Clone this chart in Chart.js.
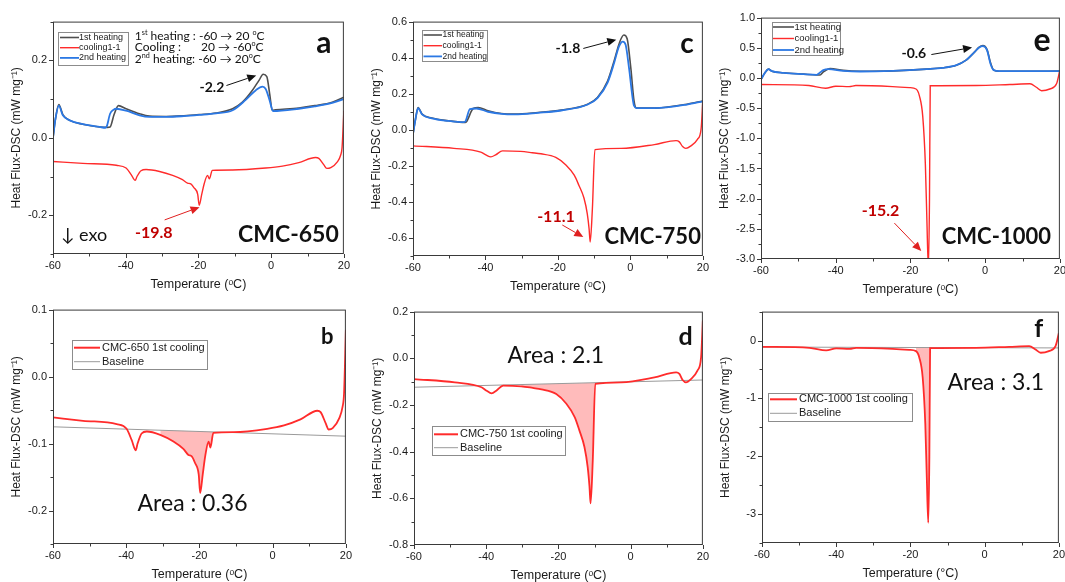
<!DOCTYPE html>
<html>
<head>
<meta charset="utf-8">
<title>DSC curves of CMC-650, CMC-750 and CMC-1000</title>
<script src="https://cdn.jsdelivr.net/npm/chart.js@4.4.1/dist/chart.umd.min.js"></script>
<style>
  html, body { margin: 0; padding: 0; background: #fff; }
  body { width: 1065px; height: 582px; overflow: hidden; position: relative; }
  canvas { position: absolute; }
</style>
</head>
<body>
<canvas id="panelA"></canvas>
<canvas id="panelC"></canvas>
<canvas id="panelE"></canvas>
<canvas id="panelB"></canvas>
<canvas id="panelD"></canvas>
<canvas id="panelF"></canvas>
<script>
// ---- CMC-650 ----
const t650Heat1 = [-60, -59.3, -58.4, -57.3, -55.4, -51.8, -47.2, -45, -44.3, -43.2, -42, -39.9, -36.2, -33.5, -28.9, -24, -19.8, -15.2, -10.6, -7.9, -5.2, -3.3, -2.2, -1.2, -0.4, 0.3, 1.2, 7.6, 12, 16.8, 20];
const y650Heat1 = [0.0, 0.05, 0.086, 0.06, 0.045, 0.035, 0.028, 0.027, 0.028, 0.06, 0.083, 0.075, 0.062, 0.056, 0.055, 0.057, 0.06, 0.064, 0.075, 0.092, 0.122, 0.149, 0.164, 0.158, 0.113, 0.071, 0.072, 0.077, 0.083, 0.092, 0.105];
const t650Heat2 = [-60, -59.3, -58.4, -57.3, -55.4, -51.8, -47.2, -45.6, -45.2, -44.3, -43.4, -42.6, -39.9, -36.2, -33.5, -28.9, -24, -19.8, -15.2, -10.6, -7, -4.2, -2.4, -1.5, -0.4, 0.5, 7.6, 12, 16.8, 20];
const y650Heat2 = [0.0, 0.05, 0.083, 0.058, 0.045, 0.035, 0.028, 0.026, 0.03, 0.062, 0.072, 0.075, 0.07, 0.058, 0.054, 0.054, 0.056, 0.059, 0.063, 0.071, 0.098, 0.123, 0.132, 0.126, 0.096, 0.069, 0.075, 0.081, 0.09, 0.1];
const t650Cool = [-60, -51.8, -42.6, -39.9, -38.5, -37.4, -36.9, -35.8, -34.4, -30.7, -27.1, -24.4, -23, -22.1, -21.2, -20.2, -19.8, -19.1, -18.4, -17.5, -17, -16.2, -10.6, -1.5, 3.1, 7.6, 12.2, 13.1, 14.5, 15.3, 16.4, 18.2, 19.1, 19.5, 20];
const y650Cool = [-0.061, -0.066, -0.071, -0.078, -0.095, -0.11, -0.1, -0.085, -0.082, -0.087, -0.097, -0.108, -0.117, -0.119, -0.129, -0.146, -0.174, -0.146, -0.118, -0.097, -0.106, -0.084, -0.083, -0.078, -0.073, -0.064, -0.051, -0.053, -0.07, -0.079, -0.077, -0.062, -0.045, -0.025, 0.07];
const t650Base = [-60, 20];
const y650Base = [-0.075, -0.089];
const range650 = [-31, -16.2];

// ---- CMC-750 ----
const t750Heat1 = [-60, -59.3, -58.6, -57.5, -54.8, -50.2, -45.6, -45.2, -43.4, -42, -39.3, -35.6, -31.9, -25.5, -19.1, -11.8, -9.1, -6.3, -4.5, -2.9, -1.8, -0.9, 0.1, 1, 1.7, 6.5, 15.6, 20];
const y750Heat1 = [-0.024, 0.06, 0.124, 0.087, 0.065, 0.05, 0.041, 0.046, 0.118, 0.124, 0.105, 0.09, 0.087, 0.096, 0.109, 0.142, 0.179, 0.27, 0.382, 0.49, 0.526, 0.505, 0.345, 0.16, 0.12, 0.12, 0.142, 0.16];
const t750Heat2 = [-60, -59.3, -58.6, -57.5, -54.8, -50.2, -46.1, -45.6, -44.3, -42.5, -39.3, -35.6, -31.9, -25.5, -19.1, -11.8, -9.1, -6.3, -4.5, -3.2, -2.1, -1.3, -0.4, 1, 1.7, 6.5, 15.6, 20];
const y750Heat2 = [-0.024, 0.06, 0.12, 0.085, 0.063, 0.049, 0.042, 0.045, 0.115, 0.118, 0.1, 0.088, 0.085, 0.094, 0.107, 0.14, 0.176, 0.262, 0.37, 0.46, 0.489, 0.47, 0.345, 0.133, 0.12, 0.12, 0.14, 0.158];
const t750Cool = [-60, -48.7, -41.3, -39.9, -38.5, -37.2, -35.3, -30.3, -27.1, -24.7, -20.6, -17.8, -15.5, -14.2, -12.8, -11.9, -11.4, -11.1, -10.5, -9.8, -2.6, 6.6, 12.6, 13.5, 14.4, 15.3, 16.7, 18.5, 19.5, 20];
const y750Cool = [-0.089, -0.103, -0.124, -0.139, -0.15, -0.139, -0.117, -0.12, -0.127, -0.133, -0.153, -0.195, -0.252, -0.309, -0.38, -0.466, -0.55, -0.622, -0.44, -0.11, -0.103, -0.082, -0.06, -0.067, -0.093, -0.103, -0.089, -0.053, 0.004, 0.163];
const t750Base = [-60, 20];
const y750Base = [-0.124, -0.093];
const range750 = [-30.3, -9.8];

// ---- CMC-1000 ----
const t1000Heat1 = [-60, -59, -58, -57.1, -54, -48.6, -45.1, -44.2, -43.3, -41.5, -38, -33.5, -24.6, -15.7, -11.3, -7.7, -5.1, -2.8, -1.6, -0.6, 0.5, 1.4, 2.3, 3.8, 10, 20];
const y1000Heat1 = [-0.025, 0.08, 0.146, 0.113, 0.085, 0.063, 0.05, 0.05, 0.1, 0.157, 0.125, 0.11, 0.118, 0.146, 0.168, 0.212, 0.295, 0.432, 0.51, 0.535, 0.47, 0.26, 0.13, 0.11, 0.11, 0.113];
const t1000Heat2 = [-60, -59, -58, -57.1, -54, -48.6, -45.1, -44.2, -43.3, -42, -38, -33.5, -24.6, -15.7, -11.3, -7.7, -5.1, -2.8, -1.6, -0.6, 0.5, 1.4, 2.3, 3.8, 20];
const y1000Heat2 = [-0.025, 0.08, 0.146, 0.113, 0.085, 0.063, 0.052, 0.09, 0.13, 0.146, 0.118, 0.107, 0.118, 0.146, 0.168, 0.212, 0.295, 0.432, 0.505, 0.526, 0.46, 0.24, 0.129, 0.113, 0.113];
const t1000Cool = [-60, -47.2, -42.7, -40, -36.4, -34.6, -24.8, -20.3, -18.5, -17.6, -16.7, -16, -15.6, -15.2, -14.9, -14.7, -2.4, 6.6, 12, 13.7, 15.1, 17.3, 19.1, 20];
const y1000Cool = [-0.109, -0.126, -0.171, -0.137, -0.143, -0.126, -0.143, -0.16, -0.183, -0.297, -0.64, -1.44, -2.35, -3.15, -2.01, -0.13, -0.126, -0.109, -0.097, -0.154, -0.211, -0.183, -0.097, 0.131];
const t1000Base = [-60, 20];
const y1000Base = [-0.113, -0.128];
const range1000 = [-18.5, -14.7];

// axis tick labels
const tempTicks = [-60, -40, -20, 0, 20];
const yTicksA = [-0.2, 0, 0.2];
const yTicksB = [-0.2, -0.1, 0, 0.1];
const yTicksC = [-0.6, -0.4, -0.2, 0, 0.2, 0.4, 0.6];
const yTicksD = [-0.8, -0.6, -0.4, -0.2, 0, 0.2];
const yTicksE = [-3, -2.5, -2, -1.5, -1, -0.5, 0, 0.5, 1];
const yTicksF = [-3, -2, -1, 0];

const GREY = '#4f4f4f';
const RED = '#ff2b2b';
const BLUE = '#2b78e4';
const PINK = 'rgba(255, 60, 60, 0.35)';
const DARKRED = '#c00000';
const SANS = "'Liberation Sans', Arial, sans-serif";
const NOTE = "Lato, 'DejaVu Sans', sans-serif";

Chart.defaults.font.family = SANS;
Chart.defaults.color = '#1a1a1a';

const pts = (t, y) => t.map((v, i) => ({x: v, y: y[i]}));
const isMult = (v, s) => Math.abs(v / s - Math.round(v / s)) < 1e-6;
const fmt = (v, d) => (Math.abs(v) < 1e-9 ? 0 : v).toFixed(d);

// frame round the plot area plus outward major/minor ticks
const frameTicks = {
  id: 'frameTicks',
  afterDatasetsDraw(chart, args, o) {
    const {ctx, chartArea: a, scales: {x, y}} = chart;
    ctx.save();
    ctx.strokeStyle = '#3a3a3a';
    ctx.lineWidth = 1;
    ctx.strokeRect(a.left + 0.5, a.top + 0.5, a.right - a.left - 1, a.bottom - a.top - 1);
    ctx.beginPath();
    let n = Math.round((x.max - x.min) / o.xMinor);
    for (let k = 0; k <= n; k++) {
      const v = x.min + k * o.xMinor;
      const px = Math.round(x.getPixelForValue(v)) + 0.5;
      ctx.moveTo(px, a.bottom);
      ctx.lineTo(px, a.bottom + (isMult(v, o.xMajor) ? 4 : 2.5));
    }
    n = Math.round((y.max - y.min) / o.yMinor);
    for (let k = 0; k <= n; k++) {
      const v = y.min + k * o.yMinor;
      const py = Math.round(y.getPixelForValue(v)) + 0.5;
      ctx.moveTo(a.left, py);
      ctx.lineTo(a.left - (isMult(v, o.yMajor) ? 4 : 2.5), py);
    }
    ctx.stroke();
    ctx.restore();
  }
};

// boxed legend drawn inside the plot area
const boxLegend = {
  id: 'boxLegend',
  afterDraw(chart, args, o) {
    if (!o || !o.w) return;
    const {ctx, chartArea: a} = chart;
    const bx = Math.round(a.left + o.x), by = Math.round(a.top + o.y);
    ctx.save();
    ctx.fillStyle = '#fff';
    ctx.fillRect(bx, by, o.w, o.h);
    ctx.strokeStyle = '#8c8c8c';
    ctx.lineWidth = 1;
    ctx.strokeRect(bx + 0.5, by + 0.5, o.w, o.h);
    ctx.font = o.size + 'px ' + SANS;
    ctx.textBaseline = 'middle';
    let row = 0;
    chart.data.datasets.forEach(ds => {
      if (!ds.label) return;
      const yy = by + o.rowY + row * o.rowH;
      ctx.strokeStyle = ds.borderColor;
      ctx.lineWidth = ds.keyWidth || ds.borderWidth;
      ctx.beginPath();
      ctx.moveTo(bx + o.l0, yy);
      ctx.lineTo(bx + o.l1, yy);
      ctx.stroke();
      ctx.fillStyle = '#1a1a1a';
      ctx.fillText(ds.label, bx + o.tx, yy);
      row++;
    });
    ctx.restore();
  }
};

function drawArrow(ctx, x1, y1, x2, y2, color) {
  const ang = Math.atan2(y2 - y1, x2 - x1), len = 9, half = 4;
  const bx = x2 - len * Math.cos(ang), by = y2 - len * Math.sin(ang);
  ctx.strokeStyle = color;
  ctx.fillStyle = color;
  ctx.lineWidth = 1;
  ctx.beginPath();
  ctx.moveTo(x1, y1);
  ctx.lineTo(bx, by);
  ctx.stroke();
  ctx.beginPath();
  ctx.moveTo(x2, y2);
  ctx.lineTo(bx + half * Math.sin(ang), by - half * Math.cos(ang));
  ctx.lineTo(bx - half * Math.sin(ang), by + half * Math.cos(ang));
  ctx.closePath();
  ctx.fill();
}

// text labels and arrows placed in data units
const notes = {
  id: 'notes',
  afterDraw(chart, args, o) {
    const {ctx, scales: {x, y}} = chart;
    ctx.save();
    (o.items || []).forEach(it => {
      if (it.arrow) {
        const [t1, v1, t2, v2] = it.arrow;
        drawArrow(ctx, x.getPixelForValue(t1), y.getPixelForValue(v1),
          x.getPixelForValue(t2), y.getPixelForValue(v2), it.color);
        return;
      }
      const parts = typeof it.text === 'string' ? [[it.text]] : it.text;
      const w = it.bold ? 'bold ' : '';
      const fontOf = p => w + (p[1] ? it.size * 0.6 : it.size) + 'px ' + NOTE;
      let total = 0;
      parts.forEach(p => { ctx.font = fontOf(p); total += ctx.measureText(p[0]).width; });
      let px = x.getPixelForValue(it.at[0]);
      const py = y.getPixelForValue(it.at[1]);
      if (it.align === 'center') px -= total / 2;
      if (it.align === 'right') px -= total;
      ctx.fillStyle = it.color || '#111';
      ctx.textBaseline = 'middle';
      ctx.textAlign = 'left';
      parts.forEach(p => {
        ctx.font = fontOf(p);
        ctx.fillText(p[0], px, p[1] ? py - it.size * 0.3 : py);
        px += ctx.measureText(p[0]).width;
      });
    });
    ctx.restore();
  }
};

function heatingSets(h1T, h1Y, cT, cY, h2T, h2Y) {
  return [
    {label: '1st heating', data: pts(h1T, h1Y), borderColor: GREY, borderWidth: 1.6, order: 1},
    {label: 'cooling1-1', data: pts(cT, cY), borderColor: RED, borderWidth: 1.4, order: 2},
    {label: '2nd heating', data: pts(h2T, h2Y), borderColor: BLUE, borderWidth: 1.8, order: 0}
  ];
}

function coolingSets(name, cT, cY, bT, bY, range) {
  const area = pts(cT, cY).filter(p => p.x >= range[0] && p.x <= range[1]);
  return [
    {label: name + ' 1st cooling', data: pts(cT, cY), borderColor: RED, borderWidth: 1.8, keyWidth: 2, order: 0},
    {label: 'Baseline', data: pts(bT, bY), borderColor: '#9a9a9a', borderWidth: 1, order: 1},
    {data: area, borderWidth: 0, borderColor: 'rgba(0,0,0,0)', backgroundColor: PINK, fill: 1, order: 2}
  ];
}

// plot-area box of every panel on the page
const AXIS_W = 53, AXIS_H = 42, PAD_T = 12, PAD_R = 10;

function makePanel(id, box, sets, ax, legend, items, xTitle) {
  const cv = document.getElementById(id);
  const left = box.L - AXIS_W, top = box.T - PAD_T;
  const w = box.R + PAD_R - left, h = box.B + AXIS_H - top;
  cv.width = w; cv.height = h;
  Object.assign(cv.style, {left: left + 'px', top: top + 'px', width: w + 'px', height: h + 'px'});
  return new Chart(cv, {
    type: 'line',
    data: {datasets: sets},
    options: {
      responsive: false,
      animation: false,
      events: [],
      layout: {padding: {top: PAD_T, right: PAD_R, left: 0, bottom: 0}},
      elements: {point: {radius: 0}, line: {cubicInterpolationMode: 'monotone', fill: false}},
      plugins: {
        legend: {display: false},
        tooltip: {enabled: false},
        frameTicks: {xMajor: 20, xMinor: 10, yMajor: ax.major, yMinor: ax.minor},
        boxLegend: legend,
        notes: {items: items}
      },
      scales: {
        x: {
          type: 'linear', min: tempTicks[0], max: tempTicks[tempTicks.length - 1],
          afterBuildTicks: s => { s.ticks = tempTicks.map(v => ({value: v})); },
          ticks: {padding: 5, autoSkip: false, maxRotation: 0, font: {size: 11}, callback: v => fmt(v, 0)},
          grid: {display: false, drawTicks: false},
          border: {display: false},
          title: {display: true, text: xTitle || 'Temperature (ᵒC)', font: {size: 12.5}, padding: {top: 0, bottom: 4}},
          afterFit: s => { s.height = AXIS_H; }
        },
        y: {
          type: 'linear', min: ax.min, max: ax.max,
          afterBuildTicks: s => { s.ticks = ax.ticks.map(v => ({value: v})); },
          ticks: {padding: 6, autoSkip: false, font: {size: 11}, callback: v => fmt(v, ax.dec)},
          grid: {display: false, drawTicks: false},
          border: {display: false},
          title: {display: true, text: 'Heat Flux-DSC (mW mg⁻¹)', font: {size: 12}, padding: {top: 9, bottom: 0}},
          afterFit: s => { s.width = AXIS_W; }
        }
      }
    },
    plugins: [frameTicks, boxLegend, notes]
  });
}

// (a) CMC-650 heating / cooling
makePanel('panelA', {L: 53, T: 21, R: 345, B: 254},
  heatingSets(t650Heat1, y650Heat1, t650Cool, y650Cool, t650Heat2, y650Heat2),
  {min: -0.3, max: 0.3, ticks: yTicksA, major: 0.2, minor: 0.1, dec: 1},
  {x: 5, y: 10, w: 70, h: 33, l0: 2, l1: 21, tx: 21, rowY: 5.5, rowH: 10.2, size: 9},
  [
    {at: [-37.5, 0.263], size: 12, text: [['1'], ['st', 1], [' heating : -60 → 20 '], ['o', 1], ['C']]},
    {at: [-37.5, 0.233], size: 12, text: 'Cooling :'},
    {at: [-19.3, 0.233], size: 12, text: [['20 → -60'], ['o', 1], ['C']]},
    {at: [-37.5, 0.203], size: 12, text: [['2'], ['nd', 1], [' heating: -60 → 20'], ['o', 1], ['C']]},
    {at: [14.5, 0.243], size: 30, bold: true, align: 'center', text: 'a'},
    {at: [-16.3, 0.130], size: 14, bold: true, align: 'center', text: '-2.2'},
    {arrow: [-12.3, 0.135, -4.1, 0.161], color: '#111'},
    {at: [-32.3, -0.246], size: 16, bold: true, align: 'center', color: DARKRED, text: '-19.8'},
    {arrow: [-29.3, -0.212, -19.7, -0.179], color: '#e02020'},
    {at: [18.6, -0.251], size: 23, bold: true, align: 'right', text: 'CMC-650'},
    {at: [-57.8, -0.251], size: 18, text: '↓ exo'}
  ]);

// (c) CMC-750 heating / cooling
makePanel('panelC', {L: 413, T: 21, R: 704, B: 256},
  heatingSets(t750Heat1, y750Heat1, t750Cool, y750Cool, t750Heat2, y750Heat2),
  {min: -0.7, max: 0.6, ticks: yTicksC, major: 0.2, minor: 0.1, dec: 1},
  {x: 9, y: 8, w: 65, h: 31, l0: 1.5, l1: 20, tx: 20.5, rowY: 5, rowH: 10.7, size: 8.5},
  [
    {at: [15.6, 0.478], size: 28, bold: true, align: 'center', text: 'c'},
    {at: [-17.25, 0.451], size: 14, bold: true, align: 'center', text: '-1.8'},
    {arrow: [-13, 0.451, -3.9, 0.5], color: '#111'},
    {at: [-20.55, -0.484], size: 16, bold: true, align: 'center', color: DARKRED, text: '-11.1'},
    {arrow: [-18.8, -0.528, -13, -0.595], color: '#e02020'},
    {at: [19.45, -0.595], size: 22, bold: true, align: 'right', text: 'CMC-750'}
  ]);

// (e) CMC-1000 heating / cooling
makePanel('panelE', {L: 761, T: 17, R: 1061, B: 259},
  heatingSets(t1000Heat1, y1000Heat1, t1000Cool, y1000Cool, t1000Heat2, y1000Heat2),
  {min: -3, max: 1, ticks: yTicksE, major: 0.5, minor: 0.25, dec: 1},
  {x: 11, y: 4, w: 68, h: 33, l0: 1, l1: 22, tx: 22.5, rowY: 5, rowH: 11.5, size: 9.5},
  [
    {at: [15.2, 0.62], size: 32, bold: true, align: 'center', text: 'e'},
    {at: [-19.1, 0.405], size: 14, bold: true, align: 'center', text: '-0.6'},
    {arrow: [-14.4, 0.388, -3.5, 0.504], color: '#111'},
    {at: [-28, -2.207], size: 16, bold: true, align: 'center', color: DARKRED, text: '-15.2'},
    {arrow: [-24.3, -2.405, -17.1, -2.868], color: '#e02020'},
    {at: [17.6, -2.636], size: 22, bold: true, align: 'right', text: 'CMC-1000'}
  ]);

// (b) CMC-650 first cooling with integrated area
makePanel('panelB', {L: 53, T: 309, R: 347, B: 544},
  coolingSets('CMC-650', t650Cool, y650Cool, t650Base, y650Base, range650),
  {min: -0.25, max: 0.1, ticks: yTicksB, major: 0.1, minor: 0.05, dec: 1},
  {x: 19, y: 30, w: 135, h: 29, l0: 2, l1: 28, tx: 30, rowY: 7.7, rowH: 14, size: 11},
  [
    {at: [14.9, 0.0587], size: 22, bold: true, align: 'center', text: 'b'},
    {at: [-36.9, -0.189], size: 23, text: 'Area : 0.36'}
  ]);

// (d) CMC-750 first cooling with integrated area
makePanel('panelD', {L: 414, T: 311, R: 704, B: 545},
  coolingSets('CMC-750', t750Cool, y750Cool, t750Base, y750Base, range750),
  {min: -0.8, max: 0.2, ticks: yTicksD, major: 0.2, minor: 0.1, dec: 1},
  {x: 18, y: 114, w: 133, h: 29, l0: 2, l1: 26, tx: 28, rowY: 8.3, rowH: 13.4, size: 11},
  [
    {at: [15.2, 0.09], size: 25, bold: true, align: 'center', text: 'd'},
    {at: [-34.1, 0.012], size: 23, text: 'Area : 2.1'}
  ]);

// (f) CMC-1000 first cooling with integrated area
makePanel('panelF', {L: 762, T: 311, R: 1060, B: 543},
  coolingSets('CMC-1000', t1000Cool, y1000Cool, t1000Base, y1000Base, range1000),
  {min: -3.5, max: 0.5, ticks: yTicksF, major: 1, minor: 0.5, dec: 0},
  {x: 6, y: 81, w: 144, h: 28, l0: 2, l1: 29, tx: 31, rowY: 6.3, rowH: 14, size: 11},
  [
    {at: [14.6, 0.202], size: 25, bold: true, align: 'center', text: 'f'},
    {at: [-10, -0.719], size: 23, text: 'Area : 3.1'}
  ], 'Temperature (°C)');
</script>
</body>
</html>
